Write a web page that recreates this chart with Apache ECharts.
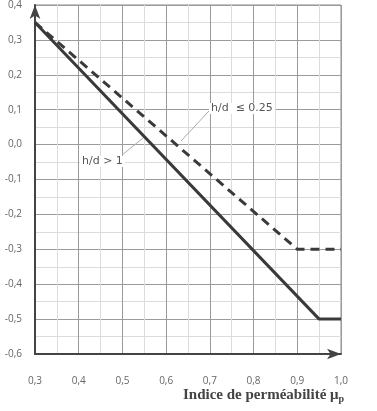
<!DOCTYPE html>
<html><head><meta charset="utf-8">
<script src="https://cdn.jsdelivr.net/npm/echarts@6/dist/echarts.min.js"></script>
<style>html,body{margin:0;padding:0;background:#fff}#c{width:377px;height:411px}</style>
</head><body><div id="c"></div>
<script>
var solidX = [0.3, 0.95, 1.0];
var solidY = [0.35, -0.5, -0.5];
var dashX = [0.3, 0.9, 1.0];
var dashY = [0.35, -0.3, -0.3];
var solidName = 'h/d > 1';
var dashName = 'h/d  \u2264 0.25';
var xTitle = 'Indice de perm\u00e9abilit\u00e9 ';

function pairs(xs, ys){ return xs.map(function(x,i){return [x, ys[i]];}); }
function fmt(v){ return (Math.round(v*10)/10).toFixed(1).replace('.', ','); }

var chart = echarts.init(document.getElementById('c'));
var axisLab = {color:'#666', fontSize:10, fontFamily:'Open Sans, DejaVu Sans, sans-serif', formatter: fmt};
chart.setOption({
  animation:false,
  grid:{left:35, right:36, top:4, bottom:57, show:true, borderColor:'#8a8a8a', borderWidth:1},
  xAxis:{type:'value', min:0.3, max:1.0, interval:0.1,
    axisLine:{onZero:false, lineStyle:{color:'#444', width:2}, symbol:['none','arrow'], symbolSize:[8,14], symbolOffset:[0,0]},
    axisTick:{show:false},
    axisLabel:Object.assign({margin:22}, axisLab),
    splitLine:{show:true, lineStyle:{color:'#9a9a9a', width:1}},
    minorTick:{show:false, splitNumber:2},
    minorSplitLine:{show:true, lineStyle:{color:'#dcdcdc', width:1}}
  },
  yAxis:{type:'value', min:-0.6, max:0.4, interval:0.1,
    axisLine:{onZero:false, lineStyle:{color:'#444', width:2}, symbol:['none','arrow'], symbolSize:[8,14], symbolOffset:[0,0]},
    axisTick:{show:false},
    axisLabel:Object.assign({margin:13}, axisLab),
    splitLine:{show:true, lineStyle:{color:'#9a9a9a', width:1}},
    minorTick:{show:false, splitNumber:2},
    minorSplitLine:{show:true, lineStyle:{color:'#dcdcdc', width:1}}
  },
  series:[
    {type:'line', name:dashName, data:pairs(dashX, dashY), showSymbol:false,
      lineStyle:{color:'#3a3a3a', width:3, type:[9,6]}, z:3},
    {type:'line', name:solidName, data:pairs(solidX, solidY), showSymbol:false,
      lineStyle:{color:'#3a3a3a', width:3}, z:4}
  ],
  graphic:[
    {type:'line', shape:{x1:122, y1:155, x2:143, y2:138}, style:{stroke:'#aaa', lineWidth:1}, z:10},
    {type:'text', left:80, top:156, style:{text:solidName, fill:'#555', font:'11px "DejaVu Sans", sans-serif', backgroundColor:'#fff', padding:[0,2]}, z:10},
    {type:'line', shape:{x1:209, y1:111, x2:181, y2:141}, style:{stroke:'#aaa', lineWidth:1}, z:10},
    {type:'text', left:209, top:103, style:{text:dashName, fill:'#555', font:'11px "DejaVu Sans", sans-serif', backgroundColor:'#fff', padding:[0,2]}, z:10},
    {type:'text', left:183, top:388, style:{
      rich:{t:{fontFamily:'Liberation Serif, DejaVu Serif, serif', fontSize:15, fontWeight:'bold', fill:'#444'},
            m:{fontFamily:'Liberation Serif, DejaVu Serif, serif', fontSize:15, fontWeight:'bold', fill:'#444'},
            s:{fontFamily:'Liberation Serif, DejaVu Serif, serif', fontSize:10, fontWeight:'bold', fill:'#444', verticalAlign:'bottom', padding:[7,0,0,0]}},
      text:'{t|'+xTitle+'}{m|\u03bc}{s|p}'}, z:10}
  ]
});
</script></body></html>
